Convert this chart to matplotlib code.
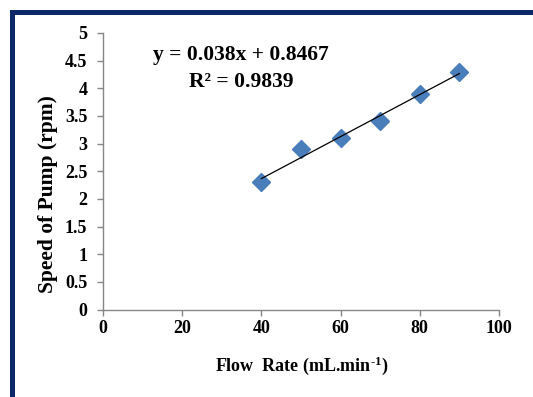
import numpy as np
import matplotlib
matplotlib.use("Agg")
import matplotlib.pyplot as plt
from matplotlib.patches import Rectangle

# datos
flow_rate = [40, 50, 60, 70, 80, 90]
pump_speed = [2.3, 2.9, 3.1, 3.4, 3.9, 4.3]
x_ticks = [0, 20, 40, 60, 80, 100]
y_ticks = [0, 0.5, 1, 1.5, 2, 2.5, 3, 3.5, 4, 4.5, 5]
y_tick_labels = ["0", "0.5", "1", "1.5", "2", "2.5", "3", "3.5", "4", "4.5", "5"]
slope, intercept = 0.038, 0.8467
eq_text = "y = 0.038x + 0.8467"
r2_text = "R² = 0.9839"

plt.rcParams['font.family'] = ['Liberation Serif', 'DejaVu Serif']
plt.rcParams['font.weight'] = 'bold'
plt.rcParams['mathtext.fontset'] = 'custom'
plt.rcParams['mathtext.rm'] = 'Liberation Serif:bold'
plt.rcParams['mathtext.bf'] = 'Liberation Serif:bold'
plt.rcParams['mathtext.it'] = 'Liberation Serif:bold'

fig = plt.figure(figsize=(5.33, 3.97), dpi=100)
ax = fig.add_axes([0.1932, 0.2204, 0.7430, 0.6965])

# marco azul del recuadro
fig.patches.append(Rectangle((12 / 533, -0.1), 1.2, 1 - 11.5 / 397 + 0.1,
                             transform=fig.transFigure, fill=False,
                             edgecolor='#0c2868', linewidth=3.6, zorder=0))

ax.plot(flow_rate, pump_speed, linestyle='none', marker='D', markersize=9,
        color='#4a7ebb', markeredgecolor='#4a7ebb', zorder=3)
x_fit = np.array([flow_rate[0], flow_rate[-1]])
ax.plot(x_fit, slope * x_fit + intercept, color='black', linewidth=0.9, zorder=4)

ax.set_xlim(0, 100)
ax.set_ylim(0, 5)
ax.set_xticks(x_ticks)
ax.set_yticks(y_ticks)
ax.set_yticklabels(y_tick_labels)
for s in ['top', 'right']:
    ax.spines[s].set_visible(False)
for s in ['left', 'bottom']:
    ax.spines[s].set_color('#868686')
    ax.spines[s].set_linewidth(1.0)
ax.tick_params(axis='both', direction='out', length=4.3, width=1.0, color='#868686',
               labelsize=13)
ax.tick_params(axis='y', pad=7)
ax.tick_params(axis='x', pad=3)

ax.set_xlabel("Flow  Rate (mL.min$^{\\text{-}1}$)", fontsize=13, fontweight='bold', va='center')
ax.xaxis.set_label_coords(0.5025, -0.204)
ax.set_ylabel("Speed of Pump (rpm)", fontsize=15.5, fontweight='bold', va='center')
ax.yaxis.set_label_coords(-0.139, 0.418)

ax.text(0.349, 0.920, eq_text, transform=ax.transAxes, ha='center', va='center',
        fontsize=15.5, fontweight='bold')
ax.text(0.349, 0.823, r2_text, transform=ax.transAxes, ha='center', va='center',
        fontsize=15.5, fontweight='bold')

plt.savefig("out.png", dpi=100)
plt.close()
